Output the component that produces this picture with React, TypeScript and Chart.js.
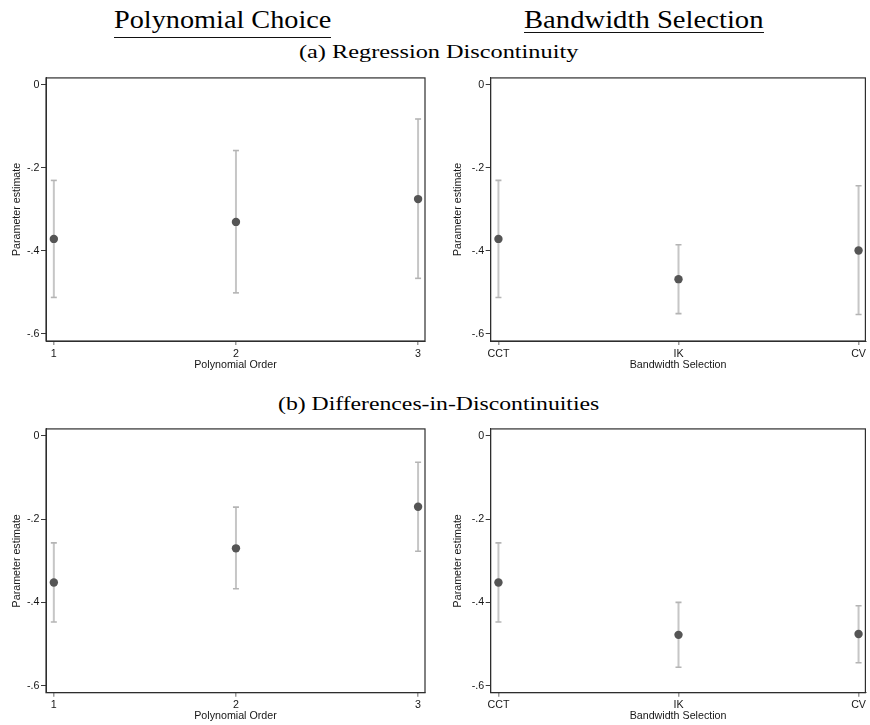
import React, { useEffect, useLayoutEffect, useRef, useState } from "react";
import { Chart, registerables } from "chart.js";

Chart.register(...registerables);

const FONT_SANS = '"Liberation Sans", Arial, Helvetica, sans-serif';
const FONT_SERIF = '"Liberation Serif", "Times New Roman", serif';

// ---- data ----
const xPositions = [1, 2, 3];
const polyLabels = ["1", "2", "3"];
const bwLabels = ["CCT", "IK", "CV"];

const yTickValues = [-0.6, -0.4, -0.2, 0];
const yTickLabels = ["-.6", "-.4", "-.2", "0"];
const yMin = -0.617;
const yMax = 0.017;
const xMin = 0.957;
const xMax = 3.038;

// (a) Regression Discontinuity
const rdPolyEst = [-0.371, -0.33, -0.275];
const rdPolyLo = [-0.512, -0.501, -0.466];
const rdPolyHi = [-0.23, -0.158, -0.082];

const rdBwEst = [-0.371, -0.468, -0.399];
const rdBwLo = [-0.512, -0.551, -0.553];
const rdBwHi = [-0.23, -0.385, -0.243];

// (b) Differences-in-Discontinuities
const didPolyEst = [-0.352, -0.27, -0.17];
const didPolyLo = [-0.447, -0.367, -0.277];
const didPolyHi = [-0.257, -0.171, -0.063];

const didBwEst = [-0.352, -0.478, -0.476];
const didBwLo = [-0.447, -0.556, -0.545];
const didBwHi = [-0.257, -0.4, -0.408];

const POINT_COLOR = "#555555";
const CI_COLOR = "#c6c6c6";
const CAP_COLOR = "#b4b4b4";
const TEXT_COLOR = "#161616";
const FRAME_COLOR = "#2e2e2e";

type PanelSpec = {
  left: number;
  top: number;
  width: number;
  height: number;
  padTop: number;
  padRight: number;
  axisW: number;
  axisH: number;
  yTitlePad: number;
  xTitlePad: number;
  xTickPad: number;
  labels: string[];
  xTitle: string;
  est: number[];
  lo: number[];
  hi: number[];
};

const framePlugin = {
  id: "frame",
  beforeDatasetsDraw(chart: any) {
    const { ctx, chartArea } = chart;
    const { left, top, right, bottom } = chartArea;
    ctx.save();
    ctx.strokeStyle = FRAME_COLOR;
    ctx.lineWidth = 1.2;
    ctx.strokeRect(left, top, right - left, bottom - top);
    ctx.restore();
  },
};

function ErrorPanel({ p }: { p: PanelSpec }) {
  const ref = useRef<HTMLCanvasElement>(null);
  useEffect(() => {
    if (!ref.current) return;
    const tickFont = { family: FONT_SANS, size: 10.7 };
    const ciSets = xPositions.map((x, i) => ({
      data: [
        { x, y: p.lo[i] },
        { x, y: p.hi[i] },
      ],
      showLine: true,
      borderColor: CI_COLOR,
      borderWidth: 2,
      pointStyle: "line",
      pointRadius: 3,
      pointHoverRadius: 3,
      pointBorderColor: CAP_COLOR,
      pointBorderWidth: 1.6,
      order: 2,
    }));
    const estSet = {
      data: xPositions.map((x, i) => ({ x, y: p.est[i] })),
      showLine: false,
      pointStyle: "circle",
      pointRadius: 4.2,
      pointHoverRadius: 4.2,
      pointBackgroundColor: POINT_COLOR,
      pointBorderColor: POINT_COLOR,
      pointBorderWidth: 0,
      order: 1,
    };
    const chart = new Chart(ref.current, {
      type: "scatter",
      data: { datasets: [estSet, ...ciSets] as any },
      plugins: [framePlugin],
      options: {
        animation: false,
        responsive: false,
        maintainAspectRatio: false,
        events: [],
        layout: { padding: { top: p.padTop, right: p.padRight, left: 0, bottom: 0 } },
        plugins: { legend: { display: false }, tooltip: { enabled: false } },
        scales: {
          x: {
            type: "linear",
            position: "bottom",
            min: xMin,
            max: xMax,
            afterBuildTicks: (s: any) => {
              s.ticks = xPositions.map((v) => ({ value: v }));
            },
            afterFit: (s: any) => {
              s.height = p.axisH;
            },
            ticks: {
              autoSkip: false,
              maxRotation: 0,
              minRotation: 0,
              padding: p.xTickPad,
              color: TEXT_COLOR,
              font: tickFont,
              callback: (_v: any, i: number) => p.labels[i],
            },
            grid: {
              display: true,
              drawOnChartArea: false,
              drawTicks: true,
              tickLength: 4,
              color: "#9c9c9c",
              lineWidth: 1.5,
            },
            border: { display: true, color: FRAME_COLOR, width: 1 },
            title: {
              display: true,
              text: p.xTitle,
              color: TEXT_COLOR,
              font: tickFont,
              padding: { top: 0, bottom: p.xTitlePad },
            },
          },
          y: {
            type: "linear",
            position: "left",
            min: yMin,
            max: yMax,
            afterBuildTicks: (s: any) => {
              s.ticks = yTickValues.map((v) => ({ value: v }));
            },
            afterFit: (s: any) => {
              s.width = p.axisW;
            },
            ticks: {
              autoSkip: false,
              padding: 1.5,
              color: TEXT_COLOR,
              font: tickFont,
              callback: (_v: any, i: number) => yTickLabels[i],
            },
            grid: {
              display: true,
              drawOnChartArea: false,
              drawTicks: true,
              tickLength: 5,
              color: "#3a3a3a",
              lineWidth: 1,
            },
            border: { display: true, color: FRAME_COLOR, width: 1 },
            title: {
              display: true,
              text: "Parameter estimate",
              color: TEXT_COLOR,
              font: tickFont,
              padding: { top: p.yTitlePad, bottom: 0 },
            },
          },
        },
      } as any,
    });
    return () => chart.destroy();
  }, [p]);
  return (
    <canvas
      ref={ref}
      width={p.width}
      height={p.height}
      style={{ position: "absolute", left: p.left, top: p.top, width: p.width, height: p.height }}
    />
  );
}

function FitText({ text, left, baseline, width, size }: { text: string; left: number; baseline: number; width: number; size: number }) {
  const ref = useRef<HTMLDivElement>(null);
  const [sx, setSx] = useState(1);
  useLayoutEffect(() => {
    const el = ref.current;
    if (!el) return;
    const w = el.offsetWidth;
    if (w > 0) setSx(width / w);
  }, [text, width, size]);
  return (
    <div
      ref={ref}
      style={{
        position: "absolute",
        left,
        top: baseline - 0.8375 * size,
        fontFamily: FONT_SERIF,
        fontSize: size,
        lineHeight: `${size}px`,
        whiteSpace: "nowrap",
        color: "#000",
        transform: `scaleX(${sx})`,
        transformOrigin: "0 0",
      }}
    >
      {text}
    </div>
  );
}

const panels: PanelSpec[] = [
  {
    left: 0, top: 70, width: 435, height: 305, padTop: 6, padRight: 10, axisW: 46, axisH: 34,
    yTitlePad: 10.5, xTitlePad: 3.6, xTickPad: 3, labels: polyLabels, xTitle: "Polynomial Order",
    est: rdPolyEst, lo: rdPolyLo, hi: rdPolyHi,
  },
  {
    left: 440, top: 70, width: 430, height: 305, padTop: 6, padRight: 1.7, axisW: 50.7, axisH: 34,
    yTitlePad: 11.9, xTitlePad: 3.6, xTickPad: 3, labels: bwLabels, xTitle: "Bandwidth Selection",
    est: rdBwEst, lo: rdBwLo, hi: rdBwHi,
  },
  {
    left: 0, top: 421, width: 435, height: 304, padTop: 7.3, padRight: 10, axisW: 46, axisH: 32.3,
    yTitlePad: 10.5, xTitlePad: 2.9, xTickPad: 1.5, labels: polyLabels, xTitle: "Polynomial Order",
    est: didPolyEst, lo: didPolyLo, hi: didPolyHi,
  },
  {
    left: 440, top: 421, width: 430, height: 304, padTop: 7.3, padRight: 1.7, axisW: 50.7, axisH: 32.3,
    yTitlePad: 11.9, xTitlePad: 2.9, xTickPad: 1.5, labels: bwLabels, xTitle: "Bandwidth Selection",
    est: didBwEst, lo: didBwLo, hi: didBwHi,
  },
];

export default function App() {
  return (
    <div
      style={{
        position: "absolute",
        left: 0,
        top: 0,
        width: 870,
        height: 725,
        overflow: "hidden",
        background: "#fff",
      }}
    >
      <FitText text="Polynomial Choice" left={114} baseline={28.3} width={217} size={25} />
      <div style={{ position: "absolute", left: 114, top: 36.7, width: 217, height: 1.3, background: "#111" }} />
      <FitText text="Bandwidth Selection" left={524} baseline={28.3} width={239.5} size={25} />
      <div style={{ position: "absolute", left: 524, top: 31.7, width: 240, height: 1.3, background: "#111" }} />
      <FitText text="(a) Regression Discontinuity" left={299.3} baseline={57.5} width={278.7} size={19} />
      <FitText text="(b) Differences-in-Discontinuities" left={278.3} baseline={410} width={321.7} size={19} />
      {panels.map((p, i) => (
        <ErrorPanel key={i} p={p} />
      ))}
    </div>
  );
}
